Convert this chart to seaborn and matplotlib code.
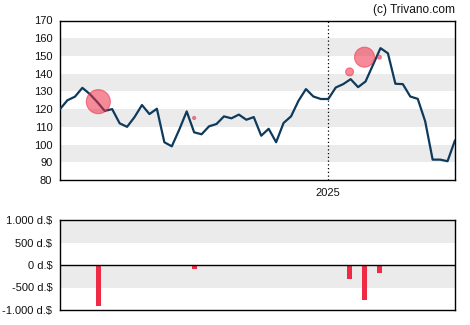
import numpy as np
import pandas as pd
import matplotlib
matplotlib.use("Agg")
import matplotlib.pyplot as plt
import matplotlib.dates as mdates
import seaborn as sns

# Weekly closing prices
price_start = "2024-04-24"
prices = [120, 125, 127, 132, 128.5, 124, 119, 120, 112, 110,
          115.5, 122.3, 117.2, 120.2, 101.3, 99, 108.4, 118.7, 106.9, 105.8,
          110.3, 111.6, 115.9, 114.8, 116.9, 114, 115.5, 105, 108.9, 101.3,
          112.2, 115.9, 124.7, 131.3, 127.1, 125.7, 125.7, 132.2, 134.1, 136.9,
          132.4, 135.6, 145, 154.4, 151.5, 134.3, 134.1, 127.1, 125.8, 113.1,
          91.5, 91.5, 90.6, 102.4]

# Insider transactions: date, price paid, net volume (thousand $)
trade_dates = ["2024-05-30", "2024-08-28", "2025-01-21", "2025-02-04", "2025-02-18"]
trade_prices = [124.2, 115, 141, 149.3, 149.3]
trade_volumes = [-907, -98, -306, -777, -172]
bubble_sizes = [300, 5, 33, 207, 8]

price_ticks = [80, 90, 100, 110, 120, 130, 140, 150, 160, 170]
volume_ticks = [-1000, -500, 0, 500, 1000]
volume_labels = ["-1.000 d.$", "-500 d.$", "0 d.$", "500 d.$", "1.000 d.$"]
year_marker = "2025-01-01"
year_label = "2025"

dates = pd.date_range(price_start, periods=len(prices), freq="7D")
x_price = mdates.date2num(dates.to_pydatetime())
x_trade = mdates.date2num(pd.to_datetime(trade_dates).to_pydatetime())
x_year = mdates.date2num(pd.Timestamp(year_marker).to_pydatetime())

price_df = pd.DataFrame({"x": x_price, "price": prices})
trade_df = pd.DataFrame({"x": x_trade, "price": trade_prices,
                         "volume": trade_volumes, "size": bubble_sizes})

sns.set_style("white")
plt.rcParams["font.family"] = ["Liberation Sans", "DejaVu Sans"]
plt.rcParams["font.size"] = 8

LINE = "#0e3a5c"
RED = "#ee2b45"
BAND = "#ebebeb"

fig = plt.figure(figsize=(4.7, 3.25), dpi=100)
ax = fig.add_axes([60 / 470, 1 - 180 / 325, 395 / 470, 159.5 / 325])
axv = fig.add_axes([60 / 470, 1 - 310 / 325, 395 / 470, 90 / 325])

xmin, xmax = x_price[0], x_price[-1]

# price panel
for lo in range(90, 170, 20):
    ax.axhspan(lo, lo + 10, color=BAND, lw=0, zorder=0)
ax.axvline(x_year, color="black", ls=(0, (1, 2)), lw=0.9, zorder=1)
sns.lineplot(data=price_df, x="x", y="price", ax=ax, color=LINE, lw=1.6, zorder=3)
sns.scatterplot(data=trade_df, x="x", y="price", size="size", sizes=(min(bubble_sizes), max(bubble_sizes)),
                size_norm=(min(bubble_sizes), max(bubble_sizes)), ax=ax, color=RED, alpha=0.55,
                edgecolor=RED, linewidth=0.8, legend=False, zorder=4)
ax.set_xlim(xmin, xmax)
ax.set_ylim(80, 170)
ax.set_yticks(price_ticks)
ax.set_xticks([x_year])
ax.set_xticklabels([year_label])
ax.set_xlabel("")
ax.set_ylabel("")
for s in ax.spines.values():
    s.set_color("black")
    s.set_linewidth(1.0)
ax.tick_params(axis="both", direction="out", length=4, width=0.8, color="black",
               labelsize=8, pad=1.5, labelcolor="#111111")
ax.text(1.0, 1.03, "(c) Trivano.com", transform=ax.transAxes, ha="right", va="bottom",
        fontsize=8.6, color="#111111")

# volume panel
axv.axhspan(500, 1000, color=BAND, lw=0, zorder=0)
axv.axhspan(-500, 0, color=BAND, lw=0, zorder=0)
axv.axhline(0, color="black", lw=1.0, zorder=3)
axv.bar(trade_df["x"], trade_df["volume"], width=4.8, color=RED, lw=0, zorder=2)
axv.set_xlim(xmin, xmax)
axv.set_ylim(-1000, 1000)
axv.set_yticks(volume_ticks)
axv.set_yticklabels(volume_labels)
axv.set_xticks([])
axv.set_xlabel("")
axv.set_ylabel("")
for s in axv.spines.values():
    s.set_color("black")
    s.set_linewidth(1.0)
axv.tick_params(axis="y", direction="out", length=4, width=0.8, color="black",
                labelsize=8, pad=1.5, labelcolor="#111111")

fig.savefig("out.png", dpi=100)
